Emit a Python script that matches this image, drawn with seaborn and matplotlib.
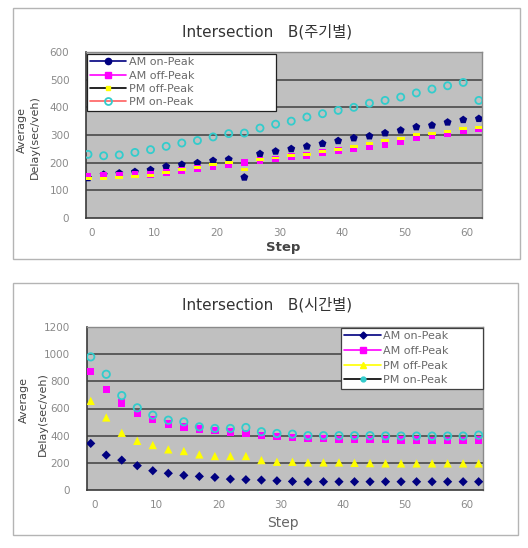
import numpy as np
import pandas as pd
import matplotlib
matplotlib.use("Agg")
import matplotlib.pyplot as plt
import matplotlib.transforms as mtransforms
from matplotlib.lines import Line2D
from matplotlib.patches import Rectangle
import seaborn as sns

# ---- data -------------------------------------------------------------
steps = [i * 2.5 for i in range(26)]
series_names = ["AM on-Peak", "AM off-Peak", "PM off-Peak", "PM on-Peak"]

# Intersection B, by cycle (주기별)
cycle_am_on = [145, 157, 162, 167, 174, 186, 193, 199, 207, 212, 147, 232, 241,
               250, 259, 269, 279, 289, 296, 307, 317, 329, 335, 346, 355, 359]
cycle_am_off = [152, 153, 154, 156, 158, 165, 172, 178, 184, 194, 200, 207, 213,
                222, 226, 236, 243, 250, 258, 266, 276, 290, 298, 306, 316, 322]
cycle_pm_off = [142, 143, 147, 150, 154, 164, 174, 184, 192, 199, 175, 211, 217,
                225, 230, 240, 247, 258, 268, 280, 288, 302, 306, 314, 323, 327]
cycle_pm_on = [230, 225, 228, 237, 247, 259, 271, 280, 293, 305, 307, 325, 339,
               350, 365, 377, 389, 400, 415, 425, 437, 452, 466, 478, 490, 425]

# Intersection B, by time (시간별)
time_am_on = [343, 257, 220, 179, 142, 123, 108, 100, 93, 80, 76, 73, 68,
              63, 61, 61, 61, 61, 61, 61, 61, 61, 61, 61, 61, 61]
time_am_off = [870, 740, 640, 563, 520, 485, 465, 450, 438, 428, 416, 400, 395,
               387, 380, 377, 374, 372, 370, 370, 368, 368, 365, 365, 365, 368]
time_pm_off = [656, 534, 421, 362, 331, 299, 287, 262, 250, 250, 250, 220, 208,
               208, 203, 203, 203, 200, 198, 196, 196, 196, 196, 196, 196, 196]
time_pm_on = [980, 852, 695, 605, 551, 514, 502, 465, 453, 453, 460, 429, 416,
              411, 400, 400, 400, 400, 400, 398, 397, 397, 397, 397, 397, 404]

x_ticks = [0, 10, 20, 30, 40, 50, 60]
y_ticks_cycle = [0, 100, 200, 300, 400, 500, 600]
y_ticks_time = [0, 200, 400, 600, 800, 1000, 1200]

title_cycle = "Intersection   B(주기별)"
title_time = "Intersection   B(시간별)"

# ---- style ------------------------------------------------------------
sns.set_style("white")
plt.rcParams["font.family"] = ["DejaVu Sans", "Noto Sans CJK KR"]

W, H = 528, 548
fig = plt.figure(figsize=(W / 100, H / 100), dpi=100)
fig.patch.set_facecolor("white")


def px_rect(x0, y0, x1, y1):
    return [x0 / W, 1 - y1 / H, (x1 - x0) / W, (y1 - y0) / H]


NAVY = "#000080"
MAGENTA = "#ff00ff"
YELLOW = "#ffff00"
CYAN = "#33cccc"
BAR = [(-1, -0.38), (1, -0.38), (1, 0.38), (-1, 0.38), (-1, -0.38)]


def style_axes(ax, xlim, ylim, yticks, xshift_px):
    ax.set_facecolor("#c0c0c0")
    ax.set_xlim(*xlim)
    ax.set_ylim(*ylim)
    ax.set_xticks(x_ticks)
    ax.set_yticks(yticks)
    ax.set_xticklabels([str(t) for t in x_ticks])
    ax.set_yticklabels([str(t) for t in yticks])
    ax.tick_params(axis="both", length=0, labelsize=7.5, labelcolor="#8a8a8a")
    ax.tick_params(axis="x", pad=7)
    ax.tick_params(axis="y", pad=12)
    for t in yticks[1:-1]:
        ax.axhline(t, color="#4a4a4a", lw=1.2, zorder=1)
    for side in ["top", "right"]:
        ax.spines[side].set_color("#8a8a8a")
        ax.spines[side].set_linewidth(1.0)
    for side in ["left", "bottom"]:
        ax.spines[side].set_color("#3a3a3a")
        ax.spines[side].set_linewidth(1.2)
    off = mtransforms.ScaledTranslation(xshift_px / 100, 0, fig.dpi_scale_trans)
    for lab in ax.get_xticklabels():
        lab.set_transform(lab.get_transform() + off)
    ax.set_xlabel("")
    ax.set_ylabel("")


# ---- panel frames -----------------------------------------------------
for (x0, y0, x1, y1) in [(13, 8, 520, 259), (13, 283, 518, 535)]:
    fig.patches.append(Rectangle((x0 / W, 1 - y1 / H), (x1 - x0) / W, (y1 - y0) / H,
                                 transform=fig.transFigure, fill=False,
                                 ec="#b4b4b4", lw=1.0))

# ---- top chart: by cycle ----------------------------------------------
ax1 = fig.add_axes(px_rect(86, 52, 482, 218))
top_df = pd.DataFrame({"Step": steps, "am_on": cycle_am_on, "am_off": cycle_am_off,
                       "pm_off": cycle_pm_off, "pm_on": cycle_pm_on})
sns.scatterplot(data=top_df, x="Step", y="am_on", ax=ax1, marker="p", s=36,
                color=NAVY, edgecolor="none", zorder=3)
sns.scatterplot(data=top_df, x="Step", y="am_off", ax=ax1, marker="s", s=24,
                color=MAGENTA, edgecolor="none", zorder=3)
sns.scatterplot(data=top_df, x="Step", y="pm_off", ax=ax1, marker=BAR, s=30,
                color=YELLOW, edgecolor="none", zorder=3)
sns.scatterplot(data=top_df, x="Step", y="pm_on", ax=ax1, marker="o", s=26,
                color=CYAN, facecolor="none", edgecolor=CYAN, linewidth=1.3, zorder=3)
style_axes(ax1, (-0.32, 63.0), (0, 600), y_ticks_cycle, 4)

h1 = [
    Line2D([0], [0], color=NAVY, lw=1.2, marker="o", ms=4.5, mfc=NAVY, mec=NAVY),
    Line2D([0], [0], color=MAGENTA, lw=1.2, marker="s", ms=4.5, mfc=MAGENTA, mec=MAGENTA),
    Line2D([0], [0], color="black", lw=1.2, marker="s", ms=3.5, mfc=YELLOW, mec=YELLOW),
    Line2D([0], [0], color="#ff6060", lw=1.2, marker="o", ms=5, mfc="none", mec=CYAN, mew=1.3),
]
leg1 = ax1.legend(h1, series_names, loc="upper left",
                  bbox_to_anchor=(0.0025, 0.59, 0.477, 0.398), mode="expand",
                  borderaxespad=0, frameon=True, fancybox=False, framealpha=1,
                  edgecolor="#202020", fontsize=8, handlelength=3.2,
                  handletextpad=0.25, labelspacing=0.3, borderpad=0.3,
                  labelcolor="#6a6a6a")
leg1.get_frame().set_linewidth(0.9)
leg1.set_zorder(5)

fig.text(267 / W, 1 - 32 / H, title_cycle, ha="center", va="center",
         fontsize=11, color="#333333")
fig.text(283 / W, 1 - 247 / H, "Step", ha="center", va="center",
         fontsize=9.5, fontweight="bold", color="#444444")
fig.text(22 / W, 1 - 130 / H, "Average", rotation=90, ha="center", va="center",
         fontsize=8, color="#444444")
fig.text(35 / W, 1 - 137 / H, "Delay(sec/veh)", rotation=90, ha="center",
         va="center", fontsize=8, color="#444444")

# ---- bottom chart: by time --------------------------------------------
ax2 = fig.add_axes(px_rect(87, 327, 483, 490))
bot_df = pd.DataFrame({"Step": steps, "am_on": time_am_on, "am_off": time_am_off,
                       "pm_off": time_pm_off, "pm_on": time_pm_on})
sns.scatterplot(data=bot_df, x="Step", y="am_on", ax=ax2, marker="D", s=22,
                color=NAVY, edgecolor="none", zorder=3)
sns.scatterplot(data=bot_df, x="Step", y="am_off", ax=ax2, marker="s", s=28,
                color=MAGENTA, edgecolor="none", zorder=3)
sns.scatterplot(data=bot_df, x="Step", y="pm_off", ax=ax2, marker="^", s=36,
                color=YELLOW, edgecolor="none", zorder=3)
sns.scatterplot(data=bot_df, x="Step", y="pm_on", ax=ax2, marker="o", s=28,
                color=CYAN, facecolor="none", edgecolor=CYAN, linewidth=1.3, zorder=3)
style_axes(ax2, (-0.6, 63.2), (0, 1200), y_ticks_time, 4)

h2 = [
    Line2D([0], [0], color=NAVY, lw=1.2, marker="D", ms=3.5, mfc=NAVY, mec=NAVY),
    Line2D([0], [0], color=MAGENTA, lw=1.2, marker="s", ms=4, mfc=MAGENTA, mec=MAGENTA),
    Line2D([0], [0], color=YELLOW, lw=1.2, marker="^", ms=4.5, mfc=YELLOW, mec=YELLOW),
    Line2D([0], [0], color="black", lw=1.2, marker="o", ms=3.5, mfc=CYAN, mec=CYAN),
]
leg2 = ax2.legend(h2, series_names, loc="upper left",
                  bbox_to_anchor=(0.641, 0.571, 0.359, 0.423), mode="expand",
                  borderaxespad=0, frameon=True, fancybox=False, framealpha=1,
                  edgecolor="#404040", fontsize=8, handlelength=3.3,
                  handletextpad=0.2, labelspacing=0.42, borderpad=0.3,
                  labelcolor="#6a6a6a")
leg2.get_frame().set_linewidth(0.9)
leg2.set_zorder(5)

fig.text(267 / W, 1 - 305 / H, title_time, ha="center", va="center",
         fontsize=11, color="#333333")
fig.text(283 / W, 1 - 523 / H, "Step", ha="center", va="center",
         fontsize=10, color="#666666")
fig.text(24 / W, 1 - 400 / H, "Average", rotation=90, ha="center", va="center",
         fontsize=8, color="#444444")
fig.text(43 / W, 1 - 414 / H, "Delay(sec/veh)", rotation=90, ha="center",
         va="center", fontsize=8, color="#444444")

fig.savefig("out.png", dpi=100, facecolor="white")
